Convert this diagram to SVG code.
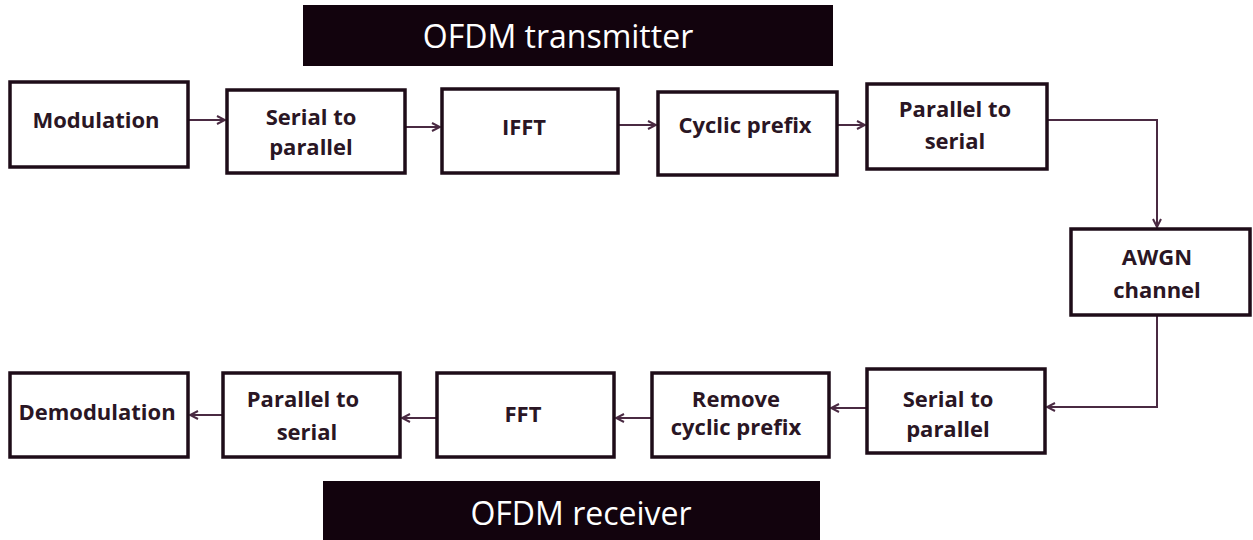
<svg xmlns="http://www.w3.org/2000/svg" width="1253" height="540" viewBox="0 0 1253 540">
<style>
.box{fill:#fff;stroke:#1e0c18;stroke-width:3.5}
.t{font-family:"Open Sans",Lato,sans-serif;font-weight:bold;font-size:22px;fill:#2a1624;text-anchor:middle}
.title{fill:#12030d}
.tt{font-family:"Open Sans",Lato,sans-serif;font-size:32px;fill:#fff;text-anchor:middle}
.c{fill:none;stroke:#4a2a42;stroke-width:2}
</style>
<defs>
<marker id="ah" viewBox="0 0 10 10" refX="9" refY="5" markerWidth="10" markerHeight="10" markerUnits="userSpaceOnUse" orient="auto">
<path d="M1,1 L9,5 L1,9" fill="none" stroke="#4a2a42" stroke-width="2"/>
</marker>
</defs>
<g id="title-tx"><rect class="title" x="303" y="5" width="530" height="61"/><text class="tt" x="558" y="48">OFDM transmitter</text></g>
<g id="title-rx"><rect class="title" x="323" y="481" width="497" height="62"/><text class="tt" x="581" y="525">OFDM receiver</text></g>
<g id="connectors">
<path class="c" d="M189,120 H225" marker-end="url(#ah)"/>
<path class="c" d="M405,127 H440" marker-end="url(#ah)"/>
<path class="c" d="M618,125 H656" marker-end="url(#ah)"/>
<path class="c" d="M837,125 H865" marker-end="url(#ah)"/>
<path class="c" d="M1047,120 H1157 V227" marker-end="url(#ah)"/>
<path class="c" d="M1157,315 V407 H1047" marker-end="url(#ah)"/>
<path class="c" d="M867,408 H831" marker-end="url(#ah)"/>
<path class="c" d="M652,418 H616" marker-end="url(#ah)"/>
<path class="c" d="M437,418 H402" marker-end="url(#ah)"/>
<path class="c" d="M223,415 H190" marker-end="url(#ah)"/>
</g>
<g id="n-mod"><rect class="box" x="10" y="82" width="178" height="85"/><text class="t" x="96" y="128">Modulation</text></g>
<g id="n-s2p"><rect class="box" x="227" y="90" width="178" height="83"/><text class="t" x="311" y="125">Serial to</text><text class="t" x="311" y="155">parallel</text></g>
<g id="n-ifft"><rect class="box" x="442" y="89" width="176" height="84"/><text class="t" x="524" y="135">IFFT</text></g>
<g id="n-cp"><rect class="box" x="658" y="92" width="179" height="83"/><text class="t" x="745" y="133">Cyclic prefix</text></g>
<g id="n-p2s"><rect class="box" x="867" y="84" width="180" height="85"/><text class="t" x="955" y="117">Parallel to</text><text class="t" x="955" y="149">serial</text></g>
<g id="n-awgn"><rect class="box" x="1071" y="229" width="179" height="86"/><text class="t" x="1157" y="265">AWGN</text><text class="t" x="1157" y="298">channel</text></g>
<g id="n-s2p-rx"><rect class="box" x="867" y="369" width="178" height="84"/><text class="t" x="948" y="407">Serial to</text><text class="t" x="948" y="437">parallel</text></g>
<g id="n-rcp"><rect class="box" x="652" y="373" width="177" height="84"/><text class="t" x="736" y="407">Remove</text><text class="t" x="736" y="435">cyclic prefix</text></g>
<g id="n-fft"><rect class="box" x="437" y="373" width="177" height="84"/><text class="t" x="523" y="422">FFT</text></g>
<g id="n-p2s-rx"><rect class="box" x="223" y="373" width="177" height="84"/><text class="t" x="303" y="407">Parallel to</text><text class="t" x="307" y="440">serial</text></g>
<g id="n-demod"><rect class="box" x="10" y="373" width="178" height="84"/><text class="t" x="97" y="420">Demodulation</text></g>
</svg>
